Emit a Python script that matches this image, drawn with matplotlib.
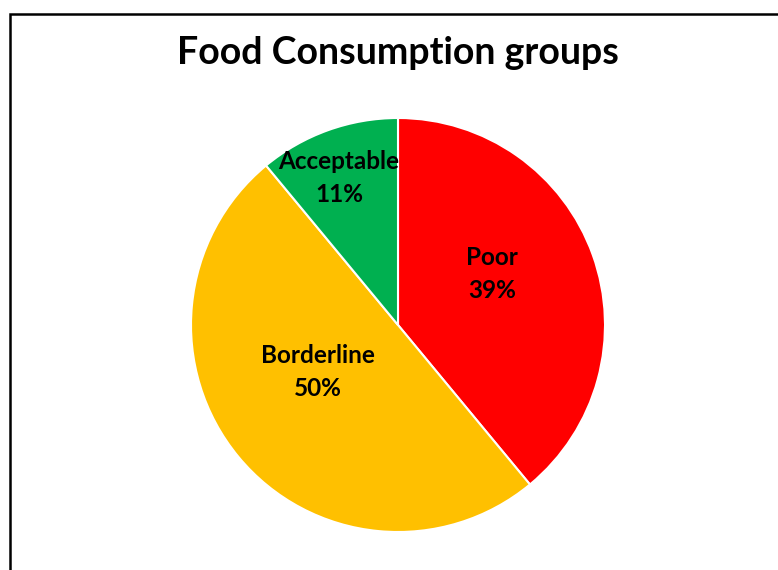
import matplotlib
matplotlib.use("Agg")
import matplotlib.pyplot as plt
from matplotlib.patches import Rectangle

labels = ["Poor", "Borderline", "Acceptable"]
values = [39, 50, 11]
colors = ["#FF0000", "#FFC000", "#00B050"]
title = "Food Consumption groups"

W, H = 778, 570
fig = plt.figure(figsize=(W / 100, H / 100), dpi=100)
fig.patch.set_facecolor("white")

# chart frame
fig.patches.append(Rectangle((10 / W, -0.1), 1.2, 1 - 14 / H + 0.1, transform=fig.transFigure,
                             fill=False, edgecolor="black", linewidth=1.8))

cx, cy, r = 398, 325, 207
ax = fig.add_axes([(cx - r) / W, (H - cy - r) / H, 2 * r / W, 2 * r / H])
wedges, _ = ax.pie(values, colors=colors, startangle=90, counterclock=False,
                   wedgeprops=dict(edgecolor="white", linewidth=1.5))
ax.set_xlim(-1, 1)
ax.set_ylim(-1, 1)
ax.set_aspect("equal")
ax.axis("off")

pos = [(492, 274), (318, 372), (339, 178)]
for lab, v, (px, py) in zip(labels, values, pos):
    ax.text((px - cx) / r, (cy - py) / r, f"{lab}\n{v}%", ha="center", va="center",
            fontsize=17.5, fontweight="bold", family="Lato", linespacing=1.5)

fig.text(398 / W, 1 - 53 / H, title, ha="center", va="center", fontsize=27,
         fontweight="bold", family="Lato")

fig.savefig("out.png", dpi=100)
